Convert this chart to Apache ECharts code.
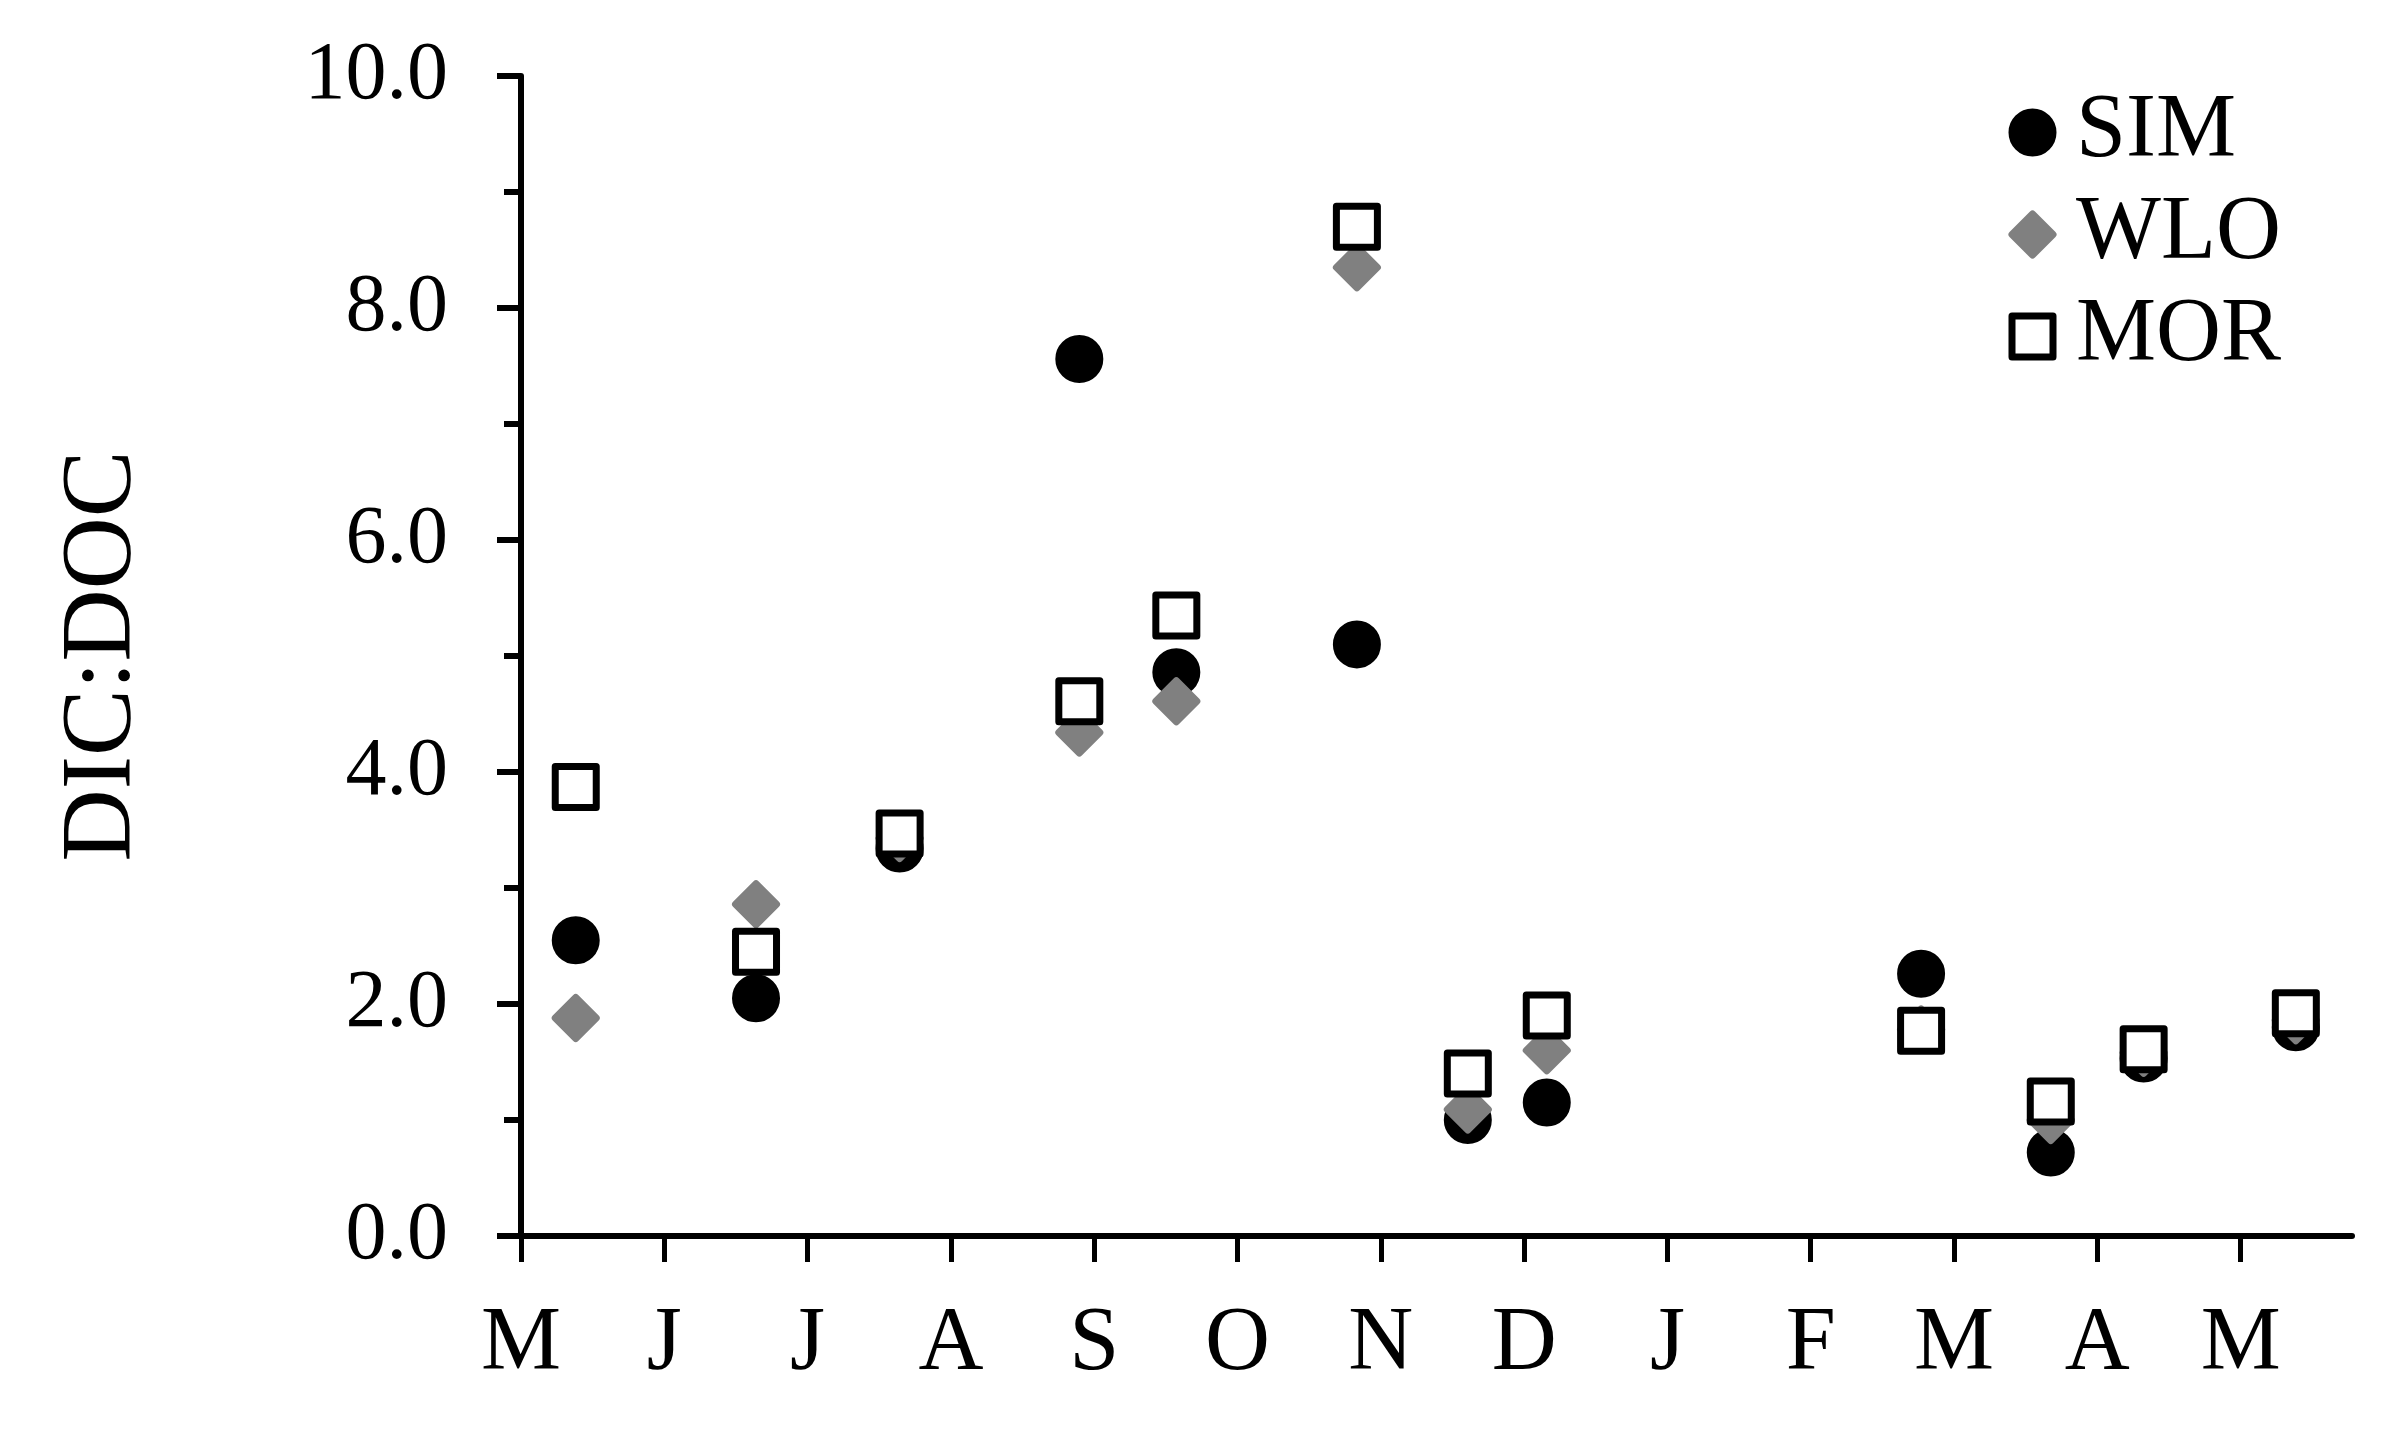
<!DOCTYPE html>
<html>
<head>
<meta charset="utf-8">
<script src="https://cdn.jsdelivr.net/npm/echarts@6/dist/echarts.min.js"></script>
<style>
html,body{margin:0;padding:0;background:#fff;}
#chart{width:2395px;height:1449px;}
</style>
</head>
<body>
<div id="chart"></div>
<script>
// Sampling positions, in months since the start of the first May
var sampleMonths = [0.382, 1.640, 2.642, 3.896, 4.573, 5.833, 6.607, 7.158, 9.770, 10.675, 11.323, 12.385];
// DIC:DOC ratios per site
var simValues = [2.55, 2.05, 3.34, 7.56, 4.86, 5.10, 1.00, 1.15, 2.26, 0.72, 1.53, 1.80];
var wloValues = [1.88, 2.86, 3.43, 4.34, 4.61, 8.35, 1.09, 1.60, 1.78, 1.00, 1.58, 1.86];
var morValues = [3.87, 2.45, 3.47, 4.61, 5.35, 8.70, 1.40, 1.90, 1.77, 1.16, 1.61, 1.92];
// Month tick labels
var monthLabels = ['M','J','J','A','S','O','N','D','J','F','M','A','M'];
var monthTicks = monthLabels.map(function (_, i) { return i; });

function pairs(vals) {
  return sampleMonths.map(function (m, i) { return [m, vals[i]]; });
}

var FONT = 'Liberation Serif';
var chart = echarts.init(document.getElementById('chart'));
chart.setOption({
  animation: false,
  backgroundColor: '#ffffff',
  grid: { left: 521, right: 43, top: 76, bottom: 213, containLabel: false },
  legend: {
    orient: 'vertical',
    left: 2008.5,
    top: 84.5,
    padding: 0,
    itemWidth: 41,
    itemHeight: 41,
    itemGap: 6,
    selectedMode: false,
    itemStyle: { borderWidth: 'inherit', borderJoin: 'round' },
    textStyle: { fontFamily: FONT, fontSize: 90, lineHeight: 90, color: '#000', padding: [6, 0, 0, 18] },
    data: ['SIM', 'WLO', 'MOR']
  },
  xAxis: {
    type: 'value',
    min: 0,
    max: 12.777,
    interval: 1,
    splitLine: { show: false },
    axisLine: { show: true, lineStyle: { color: '#000', width: 6 } },
    axisTick: { show: true, length: 26, customValues: monthTicks, lineStyle: { color: '#000', width: 5 } },
    axisLabel: {
      customValues: monthTicks,
      margin: 64,
      fontFamily: FONT, fontSize: 90, lineHeight: 90, color: '#000',
      formatter: function (v) { return monthLabels[Math.round(v)] || ''; }
    }
  },
  yAxis: {
    type: 'value',
    min: 0,
    max: 10,
    interval: 2,
    name: 'DIC:DOC',
    nameLocation: 'middle',
    nameGap: 368,
    nameTextStyle: { fontFamily: FONT, fontSize: 100, lineHeight: 100, color: '#000' },
    splitLine: { show: false },
    axisLine: { show: true, lineStyle: { color: '#000', width: 6 } },
    axisTick: { show: true, length: 24, lineStyle: { color: '#000', width: 6 } },
    minorTick: { show: true, splitNumber: 2, length: 17, lineStyle: { color: '#000', width: 6 } },
    axisLabel: {
      margin: 73,
      fontFamily: FONT, fontSize: 82, color: '#000',
      formatter: function (v) { return v.toFixed(1); }
    }
  },
  series: [
    {
      name: 'SIM', type: 'scatter', symbol: 'circle', symbolSize: 41,
      itemStyle: { color: '#000', borderColor: '#000', borderWidth: 7, opacity: 1 },
      data: pairs(simValues)
    },
    {
      name: 'WLO', type: 'scatter', symbol: 'diamond', symbolSize: 41,
      itemStyle: { color: '#808080', borderColor: '#808080', borderWidth: 7, borderJoin: 'round', opacity: 1 },
      data: pairs(wloValues)
    },
    {
      name: 'MOR', type: 'scatter', symbol: 'rect', symbolSize: 41,
      itemStyle: { color: '#fff', borderColor: '#000', borderWidth: 7, borderJoin: 'round', opacity: 1 },
      data: pairs(morValues)
    }
  ]
});
</script>
</body>
</html>
